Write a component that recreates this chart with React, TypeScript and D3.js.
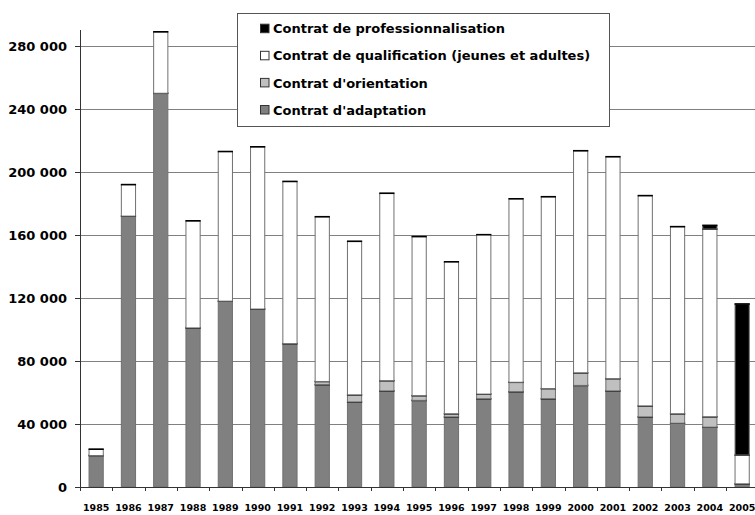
import React from "react";
import * as d3 from "d3";

const years = ["1985","1986","1987","1988","1989","1990","1991","1992","1993","1994","1995","1996","1997","1998","1999","2000","2001","2002","2003","2004","2005"];
const adaptation = [20000,172000,250000,101000,118000,113000,91000,65000,54000,61000,55000,44500,56000,60500,56000,64500,61000,44500,40500,38000,2000];
const orientation = [0,0,0,0,0,0,0,2000,4500,6500,3000,2000,3000,6000,6500,8000,7800,7000,6000,6600,0];
const qualification = [4000,20000,39000,68000,95000,103000,103000,104600,97500,119000,101000,96500,101200,116500,121800,141000,140900,133500,118800,119200,18300];
const professionnalisation = [0,0,0,0,0,0,0,0,0,0,0,0,0,0,0,0,0,0,0,2300,95900];
const yTicks = [0,40000,80000,120000,160000,200000,240000,280000];
const legendLabels = ["Contrat de professionnalisation","Contrat de qualification (jeunes et adultes)","Contrat d'orientation","Contrat d'adaptation"];
const legendColors = ["#000000","#ffffff","#c0c0c0","#808080"];

const W = 755, H = 515;
const FONT = "'DejaVu Sans', Verdana, sans-serif";

export default function App() {
  const y = d3.scaleLinear().domain([0, 280000]).range([487, 46]);
  const x = d3.scaleBand().domain(years).range([80, 80 + 21 * 32.3]).paddingInner(0).paddingOuter(0);
  const bw = x.bandwidth() * 0.44;
  const fmt = (v: number) => d3.format(",")(v).replace(/,/g, " ");

  const table = years.map((yr, i) => ({
    year: yr,
    adaptation: adaptation[i],
    orientation: orientation[i],
    qualification: qualification[i],
    professionnalisation: professionnalisation[i],
  }));
  const keys = ["adaptation", "orientation", "qualification", "professionnalisation"];
  const fills: Record<string, string> = {
    adaptation: "#808080",
    orientation: "#c0c0c0",
    qualification: "#ffffff",
    professionnalisation: "#000000",
  };
  const stacked = d3.stack<any>().keys(keys)(table);

  return (
    <svg width={W} height={H} style={{ position: "absolute", left: 0, top: 0, background: "#fff" }} fontFamily={FONT}>
      <rect x={0} y={0} width={W} height={H} fill="#fff" />
      {/* gridlines */}
      {yTicks.filter(t => t > 0).map(t => (
        <line key={t} x1={80} x2={W} y1={Math.round(y(t)) + 0.5} y2={Math.round(y(t)) + 0.5} stroke="#808080" strokeWidth={1} />
      ))}
      {/* y ticks + labels */}
      {yTicks.map(t => (
        <g key={"yt" + t}>
          <line x1={75} x2={80} y1={Math.round(y(t)) + 0.5} y2={Math.round(y(t)) + 0.5} stroke="#333" />
          <text x={67} y={y(t)} dy="0.36em" textAnchor="end" fontSize={13} fontWeight="bold" fill="#000">{fmt(t)}</text>
        </g>
      ))}
      {/* bars */}
      {stacked.map(series => (
        <g key={series.key}>
          {series.map((d, i) => {
            const v = d[1] - d[0];
            if (v <= 0) return null;
            const bx = (x(years[i]) as number) + (x.bandwidth() - bw) / 2;
            const top = y(d[1]);
            const bot = y(d[0]);
            return (
              <g key={i}>
                <rect x={bx} y={top} width={bw} height={bot - top} fill={fills[series.key]} stroke="#707070" strokeWidth={1} />
                <line x1={bx - 0.5} x2={bx + bw + 0.5} y1={top} y2={top} stroke="#000" strokeWidth={1.6} />
              </g>
            );
          })}
        </g>
      ))}
      {/* y axis */}
      <line x1={80.5} x2={80.5} y1={30} y2={487} stroke="#333" strokeWidth={1} />
      {/* x axis */}
      <line x1={80} x2={W} y1={487.5} y2={487.5} stroke="#333" strokeWidth={1} />
      {years.map((yr, i) => (
        <g key={"xt" + yr}>
          <line x1={Math.round(x(yr) as number) + 0.5} x2={Math.round(x(yr) as number) + 0.5} y1={487} y2={491} stroke="#333" />
          <text x={(x(yr) as number) + x.bandwidth() / 2} y={508} dy="0.36em" textAnchor="middle" fontSize={9.5} fontWeight="bold" fill="#000">{yr}</text>
        </g>
      ))}
      {/* legend */}
      <rect x={237.5} y={13.5} width={372} height={113} fill="#fff" stroke="#555" strokeWidth={1} />
      {legendLabels.map((lab, i) => {
        const cy = 28.7 + i * 27.1;
        return (
          <g key={lab}>
            <rect x={260.5} y={cy - 4.5} width={8.5} height={8.5} fill={legendColors[i]} stroke="#333" strokeWidth={1} />
            <text x={273} y={cy} dy="0.36em" fontSize={13} fontWeight="bold" fill="#000">{lab}</text>
          </g>
        );
      })}
    </svg>
  );
}
